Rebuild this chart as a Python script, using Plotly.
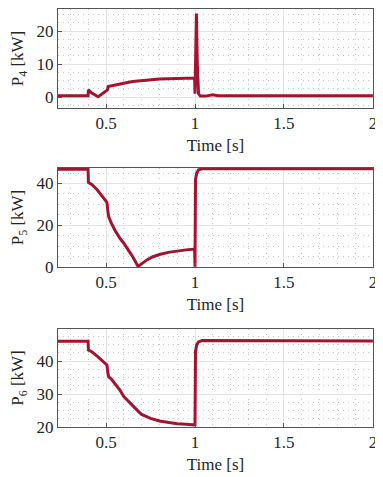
import plotly.graph_objects as go

# ---- data ----
t4 = [0.23, 0.399, 0.401, 0.42, 0.456, 0.50, 0.508, 0.512, 0.55, 0.6, 0.65, 0.7, 0.75, 0.8, 0.85, 0.9, 0.95, 0.998,
      1.0, 1.003, 1.008, 1.013, 1.02, 1.03, 1.06, 1.1, 1.13, 1.2, 2.0]
p4 = [0.4, 0.4, 2.2, 1.2, 0.1, 1.8, 2.2, 3.2, 3.7, 4.2, 4.7, 5.0, 5.3, 5.5, 5.6, 5.7, 5.8, 5.8,
      1.0, 12, 25.3, 10, 1.0, 0.3, 0.3, 0.7, 0.4, 0.4, 0.4]

t5 = [0.23, 0.399, 0.401, 0.42, 0.45, 0.48, 0.505, 0.51, 0.515, 0.53, 0.55, 0.58, 0.6, 0.63, 0.65, 0.68, 0.70,
      0.73, 0.76, 0.8, 0.85, 0.9, 0.95, 0.998, 1.0, 1.003, 1.01, 1.02, 1.04, 2.0]
p5 = [46.8, 46.8, 40.5, 39.5, 37, 34, 31, 27, 24, 21, 17.6, 13.5, 11.4, 7.5, 4.9, 0.3, 1.6,
      3.4, 4.8, 6.0, 7.0, 7.7, 8.2, 8.6, 0.1, 42, 45, 46.5, 47, 47]

t6 = [0.23, 0.399, 0.401, 0.42, 0.45, 0.48, 0.505, 0.51, 0.515, 0.53, 0.55, 0.58, 0.6, 0.63, 0.65, 0.68, 0.7,
      0.75, 0.8, 0.85, 0.9, 0.95, 0.998, 1.0, 1.003, 1.01, 1.02, 1.04, 2.0]
p6 = [46, 46, 43.3, 42.8, 41.5, 40, 38.8, 36.5, 35.2, 34.5, 33.2, 31, 29.2, 27.5, 26.2, 24.8, 23.8,
      22.6, 21.8, 21.3, 21.0, 20.8, 20.6, 20.3, 43, 45, 45.8, 46.2, 46.1]

x_ticks = [0.5, 1, 1.5, 2]
x_ticktext = ["0.5", "1", "1.5", "2"]
y_ticks = [[0, 10, 20], [0, 20, 40], [20, 30, 40]]
y_ranges = [[-3.3, 26.7], [0, 47.4], [20, 49.7]]
y_minor = [2.5, 5, 2.5]
y_titles = ["P<sub>4</sub> [kW]", "P<sub>5</sub> [kW]", "P<sub>6</sub> [kW]"]

LINE = "#a2142f"
FONT = "Liberation Serif, Times New Roman, serif"
TXT = "#262626"
FS = 17

fig = go.Figure()
series = [(t4, p4), (t5, p5), (t6, p6)]
for i, (t, p) in enumerate(series):
    sfx = "" if i == 0 else str(i + 1)
    fig.add_trace(go.Scatter(x=t, y=p, mode="lines", line=dict(color=LINE, width=3),
                             xaxis="x" + sfx, yaxis="y" + sfx, showlegend=False))

# page body has an 8px margin, so the figure is drawn 8px in from the window corner
W, Hf = 375, 469
ml, mt, mr, mb = 50, 1, 10, 50
H = Hf - mt - mb  # plot-area height
def ypos(y_window):
    return (Hf - mb - (y_window - 8)) / H
doms = [(ypos(108), ypos(9)), (ypos(267), ypos(168)), (ypos(427), ypos(329))]
doms = [(max(0.0, a), min(1.0, b)) for a, b in doms]

MINOR = dict(showgrid=True, gridcolor="#c4c4c4", griddash="1px,4px", ticks="")

layout = dict(width=W, height=Hf, margin=dict(l=ml, r=mr, t=mt, b=mb),
              paper_bgcolor="white", plot_bgcolor="white",
              font=dict(family=FONT, size=FS, color=TXT))
for i in range(3):
    sfx = "" if i == 0 else str(i + 1)
    layout["xaxis" + sfx] = dict(
        domain=[0, 1], range=[0.23, 2.0005], anchor="y" + sfx, automargin=False,
        tickvals=x_ticks, ticktext=x_ticktext, ticks="inside", ticklen=4, tickcolor="#555",
        showline=True, mirror=True, linecolor="#555", linewidth=1,
        showgrid=True, gridcolor="#e3e3e3", gridwidth=1, zeroline=False,
        minor=dict(dtick=0.1, tick0=0, **MINOR),
        title=dict(text="Time [s]", font=dict(size=FS, family=FONT, color=TXT), standoff=6),
        tickfont=dict(size=FS, family=FONT, color=TXT),
    )
    layout["yaxis" + sfx] = dict(
        domain=list(doms[i]), range=y_ranges[i], anchor="x" + sfx, automargin=False,
        tickvals=y_ticks[i], ticks="inside", ticklen=4, tickcolor="#555",
        showline=True, mirror=True, linecolor="#555", linewidth=1,
        showgrid=True, gridcolor="#e3e3e3", gridwidth=1, zeroline=False,
        minor=dict(dtick=y_minor[i], tick0=0, **MINOR),
        title=dict(text=y_titles[i], font=dict(size=FS, family=FONT, color=TXT), standoff=15),
        tickfont=dict(size=FS, family=FONT, color=TXT),
    )
fig.update_layout(**layout)
fig.write_html("out.html")
